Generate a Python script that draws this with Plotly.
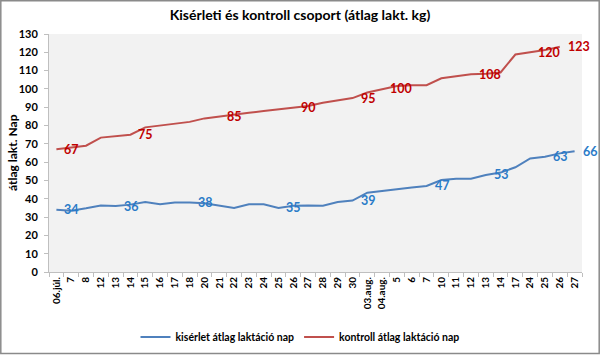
import plotly.graph_objects as go

categories = ["06.júl.", "7", "8", "12", "13", "14", "15", "16", "17", "18", "20", "21",
              "22", "23", "24", "25", "26", "27", "28", "29", "30", "03.aug.", "04.aug.",
              "5", "6", "7", "10", "11", "12", "13", "14", "17", "24", "25", "26", "27"]

kiserlet = [34, 33.5, 34.8, 36.3, 36, 36.8, 38.2, 37, 38, 38, 37.5, 36.2,
            35, 37, 37, 35, 36.2, 36.3, 36.2, 38.2, 39, 43.3, 44.4,
            45.3, 46.2, 47, 50.2, 51, 51, 53, 54.3, 57.2, 62, 63, 64.8, 66]

kontroll = [67, 68, 69, 73.4, 74.1, 75, 79, 80, 81, 82, 83.9, 85,
            86.1, 87, 87.9, 88.8, 90, 90.7, 92.5, 93.9, 95, 98, 100,
            101.6, 102, 102, 105.8, 106.9, 108, 108.3, 109, 118.8, 120, 121.2, 123, None]

kiserlet_label_idx = [0, 4, 9, 15, 20, 25, 29, 33, 35]
kontroll_label_idx = [0, 5, 11, 16, 20, 22, 28, 32, 34]

y_ticks = list(range(0, 131, 10))

FONT = "Lato"
BLUE_LINE = "#4f81bd"
RED_LINE = "#c0504d"
BLUE_TXT = "#2a7bc8"
RED_TXT = "#c00000"

x_idx = list(range(len(categories)))

fig = go.Figure()
fig.add_trace(go.Scatter(x=x_idx, y=kiserlet, mode="lines", name="kisérlet átlag laktáció nap",
                         line=dict(color=BLUE_LINE, width=2), hoverinfo="skip"))
fig.add_trace(go.Scatter(x=x_idx, y=kontroll, mode="lines", name="kontroll átlag laktáció nap",
                         line=dict(color=RED_LINE, width=2), hoverinfo="skip"))

annotations = []
for i in kiserlet_label_idx:
    annotations.append(dict(x=i, y=kiserlet[i], xref="x", yref="y", text=f"{kiserlet[i]:g}",
                            showarrow=False, xanchor="left", yanchor="middle", xshift=6,
                            font=dict(family=FONT, size=12.5, color=BLUE_TXT, weight="bold")))
for i in kontroll_label_idx:
    annotations.append(dict(x=i, y=kontroll[i], xref="x", yref="y", text=f"{kontroll[i]:g}",
                            showarrow=False, xanchor="left", yanchor="middle", xshift=6,
                            font=dict(family=FONT, size=12.5, color=RED_TXT, weight="bold")))

L, R, T, B = 49, 18, 34, 83
W, H = 600, 355
pw, ph = W - L - R, H - T - B
annotations.append(dict(x=(12 - L) / pw, y=0.5, xref="paper", yref="paper", text="átlag lakt. Nap",
                        textangle=-90, showarrow=False, xanchor="center", yanchor="middle",
                        font=dict(family=FONT, size=12, color="#000000", weight="bold")))

def px_x(p):
    return (p - L) / pw

def px_y(p):
    return (H - B - p) / ph

shapes = [dict(type="rect", xref="paper", yref="paper", x0=px_x(0.8), x1=px_x(599.2),
               y0=px_y(353.5), y1=px_y(0.8), line=dict(color="#8a8a8a", width=1.5), layer="below")]

fig.update_layout(
    width=W, height=H,
    margin=dict(l=L, r=R, t=T, b=B),
    paper_bgcolor="white",
    plot_bgcolor="#f2f2f2",
    title=dict(text="Kisérleti és kontroll csoport (átlag lakt. kg)", x=0.5, xanchor="center",
               y=1 - 15 / H, yanchor="middle",
               font=dict(family=FONT, size=14, color="#000000", weight="bold")),
    xaxis=dict(range=[-0.5, len(categories) - 0.5], tickmode="array", tickvals=x_idx, ticktext=categories,
               tickangle=-90, ticks="", showgrid=False, zeroline=False,
               showline=True, linecolor="#bfbfbf", linewidth=1,
               tickfont=dict(family=FONT, size=10, color="#000000", weight="bold"),
               minor=dict(tickmode="linear", tick0=-0.5, dtick=1, ticks="outside", ticklen=4,
                          tickcolor="#bfbfbf", showgrid=False)),
    yaxis=dict(range=[0, 130], tickmode="array", tickvals=y_ticks, showgrid=False, zeroline=False,
               showline=True, linecolor="#bfbfbf", linewidth=1, ticks="outside", ticklen=4,
               tickcolor="#bfbfbf", ticklabelstandoff=4,
               tickfont=dict(family=FONT, size=11, color="#000000", weight="bold")),
    showlegend=True,
    legend=dict(orientation="h", xref="container", yref="container", x=0.5, xanchor="center",
                y=(H - 337) / H, yanchor="middle",
                font=dict(family=FONT, size=10.5, color="#000000", weight="bold"),
                bgcolor="rgba(0,0,0,0)", itemwidth=30, tracegroupgap=0),
    annotations=annotations,
    shapes=shapes,
)

fig.write_html("out.html", config={"displayModeBar": False},
               post_script="document.body.style.margin='0px';document.body.style.overflow='hidden';")
